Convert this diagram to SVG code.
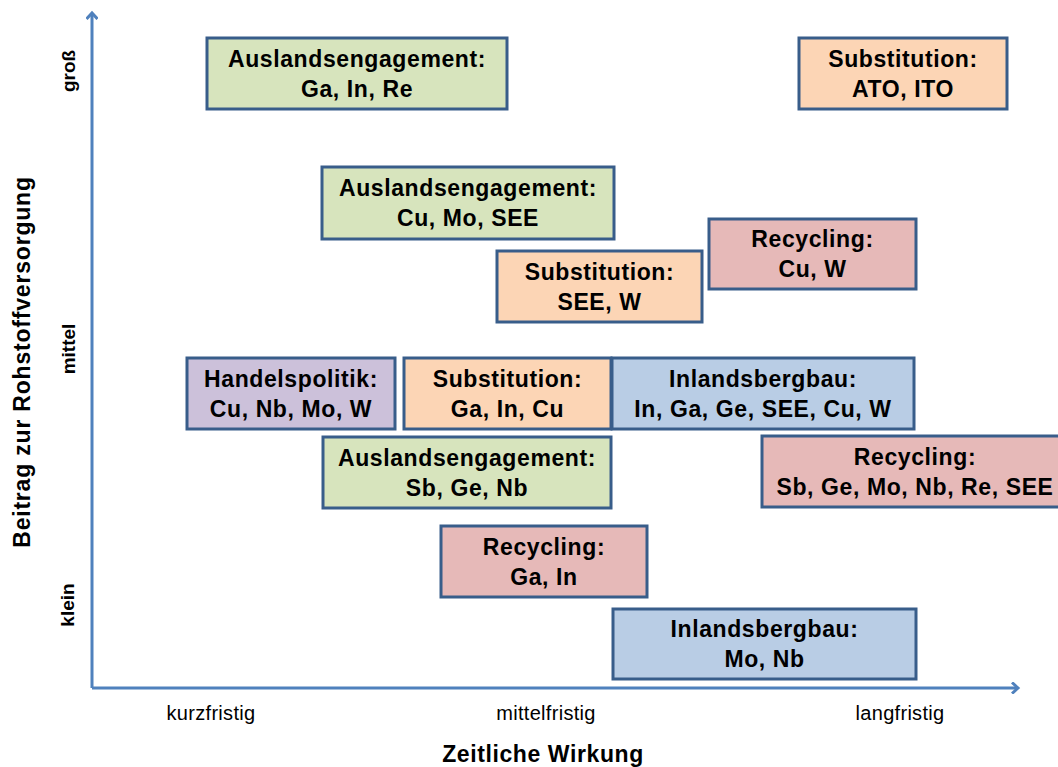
<svg xmlns="http://www.w3.org/2000/svg" width="1058" height="767" viewBox="0 0 1058 767">
<style>
.box{stroke:#385d8a;stroke-width:3}
.g{fill:#d7e4bd}.o{fill:#fcd5b5}.p{fill:#e6b9b8}.b{fill:#b9cde5}.v{fill:#ccc1da}
.t{font-family:"Liberation Sans",Arial,sans-serif;font-weight:bold;font-size:23px;letter-spacing:0.6px;fill:#000;text-anchor:middle}
.ax{fill:none;stroke:#4f81bd;stroke-width:3}
.yl{font-family:"Liberation Sans",Arial,sans-serif;font-weight:bold;font-size:19px;fill:#000;text-anchor:middle}
.xl{font-family:"Liberation Sans",Arial,sans-serif;font-size:20px;letter-spacing:0.3px;fill:#000;text-anchor:middle}
.ti{font-family:"Liberation Sans",Arial,sans-serif;font-weight:bold;font-size:23px;letter-spacing:0.6px;fill:#000;text-anchor:middle}
</style>
<defs>
<marker id="arr" markerWidth="12" markerHeight="12" refX="6" refY="6" orient="auto" markerUnits="userSpaceOnUse">
<path d="M1,0.5 L7,6 L1,11.5" fill="none" stroke="#4f81bd" stroke-width="3"/>
</marker>
</defs>
<g id="connectors">
<path class="ax" d="M92,688 L92,14" marker-end="url(#arr)"/>
<path class="ax" d="M92,688 L1017,688" marker-end="url(#arr)"/>
</g>
<g id="axis-labels">
<text class="yl" transform="translate(75,71) rotate(-90)">groß</text>
<text class="yl" transform="translate(75,349) rotate(-90)">mittel</text>
<text class="yl" transform="translate(74,605) rotate(-90)">klein</text>
<text class="ti" style="letter-spacing:0.8px" transform="translate(30,362) rotate(-90)">Beitrag zur Rohstoffversorgung</text>
<text class="xl" x="211" y="720">kurzfristig</text>
<text class="xl" x="546" y="720">mittelfristig</text>
<text class="xl" x="900" y="720">langfristig</text>
<text class="ti" x="543" y="762">Zeitliche Wirkung</text>
</g>
<g id="n1"><rect class="box g" x="207" y="38" width="300" height="71"/><text class="t" x="357" y="66.5">Auslandsengagement:</text><text class="t" x="357" y="96.5">Ga, In, Re</text></g>
<g id="n2"><rect class="box o" x="799" y="38" width="208" height="71"/><text class="t" x="903" y="66.5">Substitution:</text><text class="t" x="903" y="96.5">ATO, ITO</text></g>
<g id="n3"><rect class="box g" x="322" y="167" width="292" height="72"/><text class="t" x="468" y="196">Auslandsengagement:</text><text class="t" x="468" y="226">Cu, Mo, SEE</text></g>
<g id="n4"><rect class="box p" x="709" y="219" width="207" height="70"/><text class="t" x="812.5" y="247">Recycling:</text><text class="t" x="812.5" y="277">Cu, W</text></g>
<g id="n5"><rect class="box o" x="497" y="251" width="205" height="71"/><text class="t" x="599.5" y="279.5">Substitution:</text><text class="t" x="599.5" y="309.5">SEE, W</text></g>
<g id="n6"><rect class="box v" x="187" y="358" width="208" height="71"/><text class="t" x="291" y="386.5">Handelspolitik:</text><text class="t" x="291" y="416.5">Cu, Nb, Mo, W</text></g>
<g id="n7"><rect class="box o" x="404" y="358" width="207" height="71"/><text class="t" x="507.5" y="386.5">Substitution:</text><text class="t" x="507.5" y="416.5">Ga, In, Cu</text></g>
<g id="n8"><rect class="box b" x="612" y="358" width="302" height="71"/><text class="t" x="763" y="386.5">Inlandsbergbau:</text><text class="t" x="763" y="416.5">In, Ga, Ge, SEE, Cu, W</text></g>
<g id="n9"><rect class="box g" x="323" y="437" width="288" height="71"/><text class="t" x="467" y="465.5">Auslandsengagement:</text><text class="t" x="467" y="495.5">Sb, Ge, Nb</text></g>
<g id="n10"><rect class="box p" x="762" y="436" width="306" height="71"/><text class="t" x="915" y="464.5">Recycling:</text><text class="t" x="915" y="494.5">Sb, Ge, Mo, Nb, Re, SEE</text></g>
<g id="n11"><rect class="box p" x="441" y="526" width="206" height="71"/><text class="t" x="544" y="554.5">Recycling:</text><text class="t" x="544" y="584.5">Ga, In</text></g>
<g id="n12"><rect class="box b" x="613" y="609" width="303" height="70"/><text class="t" x="764.5" y="637">Inlandsbergbau:</text><text class="t" x="764.5" y="667">Mo, Nb</text></g>
</svg>
